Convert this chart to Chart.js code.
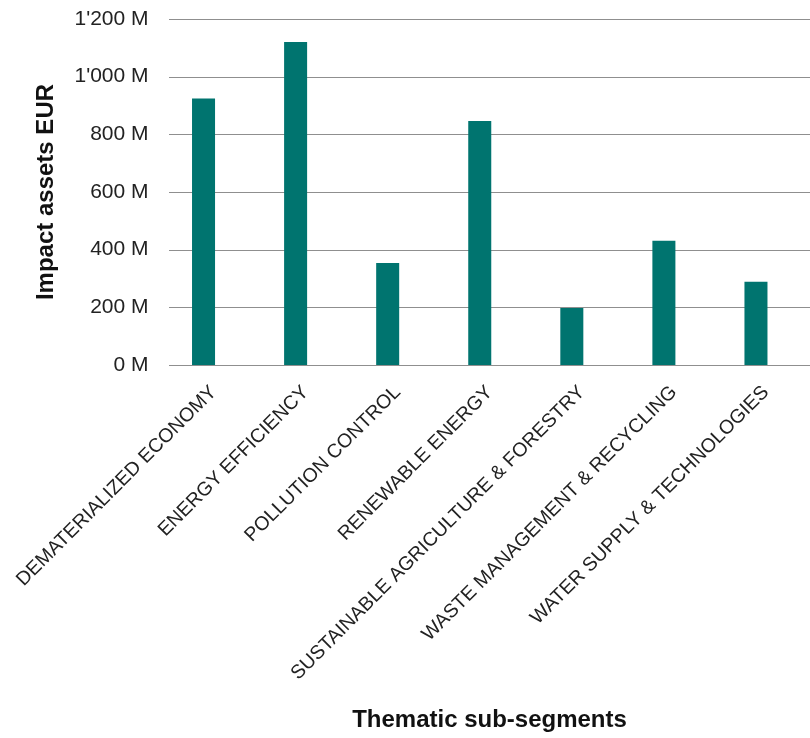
<!DOCTYPE html>
<html>
<head>
<meta charset="utf-8">
<script src="https://cdn.jsdelivr.net/npm/chart.js@4/dist/chart.umd.min.js"></script>
<style>
  html, body { margin: 0; padding: 0; background: #fff; }
  #wrap { width: 810px; height: 738px; position: relative; }
</style>
</head>
<body>
<div id="wrap"><canvas id="chart"></canvas></div>
<script>
// Thematic sub-segments and impact assets (EUR, millions)
const categories = [
    'DEMATERIALIZED ECONOMY',
    'ENERGY EFFICIENCY',
    'POLLUTION CONTROL',
    'RENEWABLE ENERGY',
    'SUSTAINABLE AGRICULTURE & FORESTRY',
    'WASTE MANAGEMENT & RECYCLING',
    'WATER SUPPLY & TECHNOLOGIES'
];
const impactAssets = [924, 1120, 354, 846, 198, 431, 289];
const yTicks = [0, 200, 400, 600, 800, 1000, 1200];

const xTitle = 'Thematic sub-segments';
const yTitle = 'Impact assets EUR';

const teal = '#00746f';
const textColor = '#222222';
const gridColor = '#8f8f8f';

function fmtMillions(v) {
    return String(v).replace(/\B(?=(\d{3})+(?!\d))/g, "'") + ' M';
}

// horizontal gridlines from the y scale, spanning a bit wider than the category band,
// plus the x axis title centred under the gridlines
const framePlugin = {
    id: 'frame',
    beforeDatasetsDraw(chart) {
        const { ctx } = chart;
        const y = chart.scales.y;
        ctx.save();
        ctx.strokeStyle = gridColor;
        ctx.lineWidth = 1.2;
        yTicks.forEach(t => {
            const py = Math.round(y.getPixelForValue(t)) + 0.5;
            ctx.beginPath();
            ctx.moveTo(169, py);
            ctx.lineTo(810, py);
            ctx.stroke();
        });
        ctx.restore();
    },
    afterDraw(chart) {
        const { ctx } = chart;
        ctx.save();
        ctx.font = 'bold 24px "Liberation Sans"';
        ctx.fillStyle = '#111';
        ctx.textAlign = 'center';
        ctx.textBaseline = 'middle';
        ctx.fillText(xTitle, (169 + 810) / 2, 720);
        ctx.restore();
    }
};

const ctx = document.getElementById('chart').getContext('2d');
new Chart(ctx, {
    type: 'bar',
    data: {
        labels: categories,
        datasets: [{
            label: yTitle,
            data: impactAssets,
            backgroundColor: teal,
            borderWidth: 0,
            categoryPercentage: 1,
            barPercentage: 0.25
        }]
    },
    options: {
        responsive: true,
        maintainAspectRatio: false,
        animation: false,
        layout: { padding: { top: 19, right: 8, left: 0, bottom: 0 } },
        plugins: {
            legend: { display: false },
            tooltip: { enabled: false }
        },
        scales: {
            x: {
                grid: { display: false },
                border: { display: false },
                afterFit(scale) {
                    scale.height = 373;
                    // rotated labels hang left into the y axis area; don't let them push the plot
                    scale.paddingLeft = 0;
                    scale.paddingRight = 0;
                },
                ticks: {
                    color: textColor,
                    autoSkip: false,
                    maxRotation: 45,
                    minRotation: 45,
                    padding: 8,
                    labelOffset: 10,
                    font: { family: 'Liberation Sans', size: 19.5 }
                }
            },
            y: {
                min: 0,
                max: 1200,
                grid: { display: false },
                border: { display: false },
                afterFit(scale) { scale.width = 157.5; },
                afterBuildTicks(scale) { scale.ticks = yTicks.map(v => ({ value: v })); },
                ticks: {
                    color: textColor,
                    padding: 1,
                    font: { family: 'Liberation Sans', size: 21 },
                    callback: v => fmtMillions(v)
                },
                title: {
                    display: true,
                    text: yTitle,
                    color: '#111',
                    padding: { top: 32, bottom: 0 },
                    font: { family: 'Liberation Sans', size: 24, weight: 'bold' }
                }
            }
        }
    },
    plugins: [framePlugin]
});
</script>
</body>
</html>
